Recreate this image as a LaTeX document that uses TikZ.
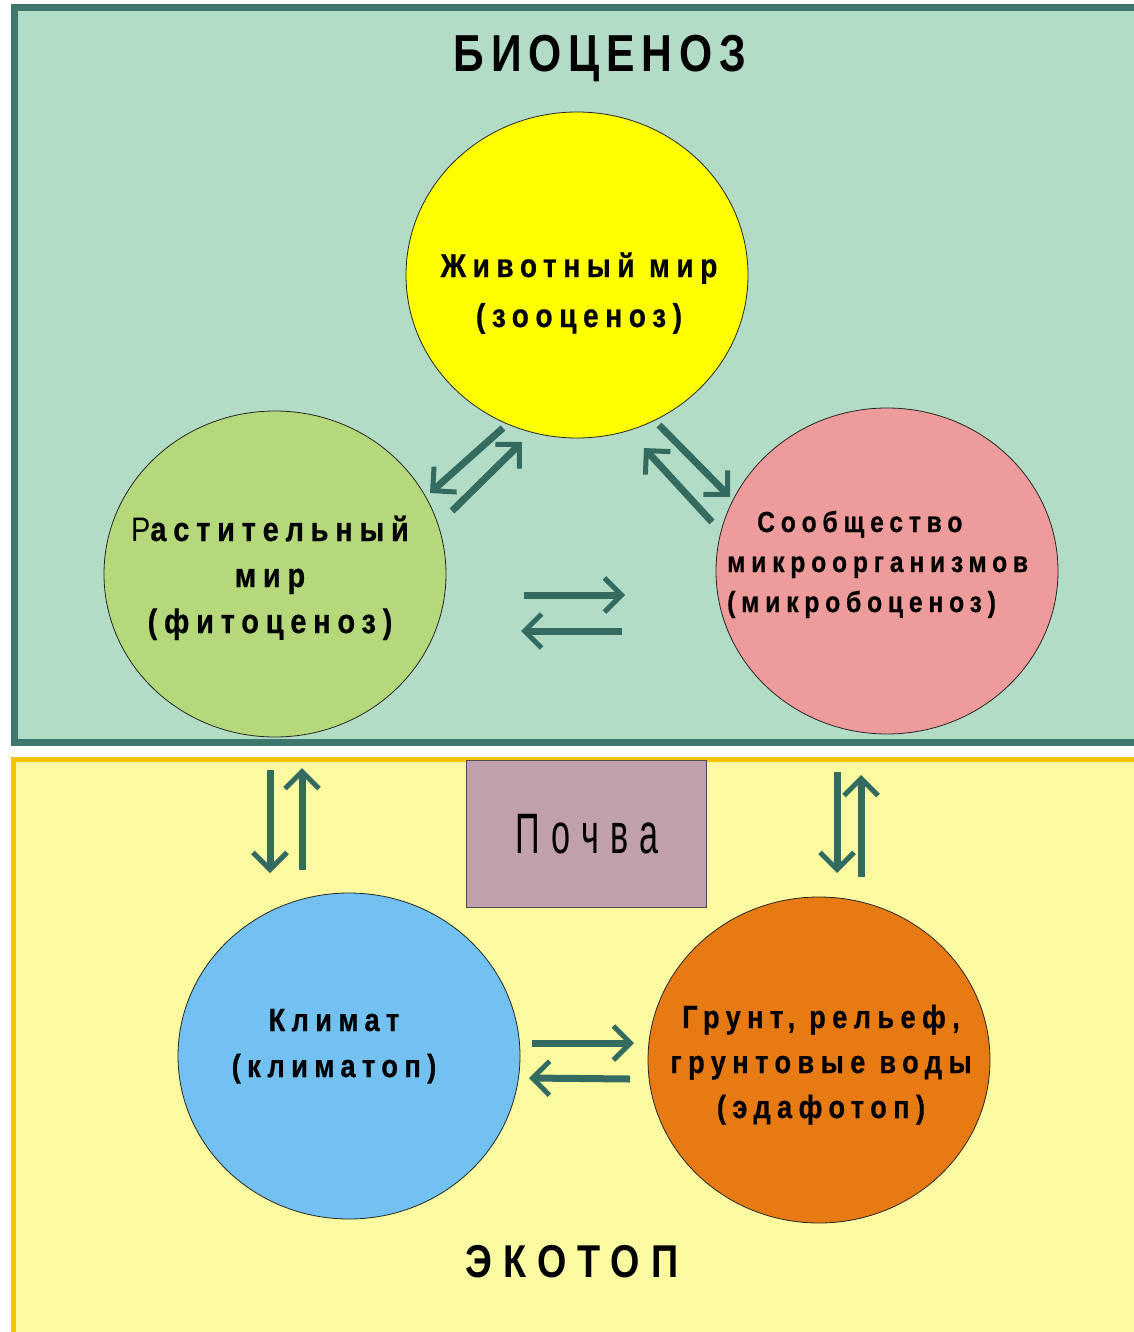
\documentclass[tikz,border=0pt]{standalone}
\usepackage{fontspec}
\setmainfont{Liberation Sans}
\newfontfamily\spacedfont[FakeStretch=0.85,LetterSpace=20,BoldFeatures={FakeBold=0.6}]{Liberation Sans}
\newfontfamily\headfont[FakeStretch=0.82,LetterSpace=13]{Liberation Sans}
\newfontfamily\footfont[FakeStretch=0.82,LetterSpace=24]{Liberation Sans}
\newfontfamily\narrowfont[FakeStretch=0.6,LetterSpace=20]{Liberation Sans}
\usetikzlibrary{shapes.geometric,arrows.meta,positioning}
\definecolor{bioFill}{RGB}{178,220,198}
\definecolor{bioEdge}{RGB}{62,120,108}
\definecolor{ecoFill}{RGB}{252,250,160}
\definecolor{ecoEdge}{RGB}{245,196,0}
\definecolor{arrTeal}{RGB}{51,107,96}
\definecolor{zooYellow}{RGB}{255,255,0}
\definecolor{phytoGreen}{RGB}{181,217,122}
\definecolor{microPink}{RGB}{238,155,155}
\definecolor{climBlue}{RGB}{115,193,240}
\definecolor{edaOrange}{RGB}{232,122,20}
\definecolor{soilMauve}{RGB}{192,160,172}

\tikzset{
  sphere/.style={ellipse, draw=black!85, line width=0.8pt, minimum width=342pt, minimum height=326pt, inner sep=0pt},
  lbl/.style 2 args={align=center, anchor=base, inner sep=0pt, font=\spacedfont\bfseries\fontsize{#1}{#2}\selectfont},
  flow/.style={draw=arrTeal, line width=7pt, -{Straight Barb[length=17pt,width=34pt,line width=5pt]}},
}

\begin{document}
\begin{tikzpicture}[x=1pt,y=-1pt]
\useasboundingbox (0,0) rectangle (1134,1332);
\fill[white] (0,0) rectangle (1134,1332);

% ===== upper panel: biocenosis =====
\draw[draw=bioEdge, line width=7pt, fill=bioFill] (14.5,8) rectangle (1150,742);
\node[anchor=base, font=\headfont\bfseries\fontsize{52}{60}\selectfont] (biotitle) at (600,72) {БИОЦЕНОЗ};

% three communities
\node[sphere, fill=zooYellow] (zoo) at (577,275) {};
\node[sphere, fill=phytoGreen] (phyto) at (275,574) {};
\node[sphere, fill=microPink] (micro) at (887,571) {};

\node[lbl={33}{50}] (zootext) at (579,327) {Животный мир\\(зооценоз)};
\node[lbl={34}{46}] (phytotext) at (270,633) {{\mdseries Р}астительный\\мир\\(фитоценоз)};
\node[lbl={29}{40}, align=left, anchor=base west] (microtext) at (727,612) {\hspace*{30pt}Сообщество\\микроорганизмов\\(микробоценоз)};

% links inside the biocenosis
\coordinate (zp1) at (503,428);  \coordinate (zp2) at (430,493);
\coordinate (pz1) at (452,511);  \coordinate (pz2) at (522,442);
\coordinate (zm1) at (659,425);  \coordinate (zm2) at (730,497);
\coordinate (mz1) at (712,522);  \coordinate (mz2) at (644,448);
\coordinate (pm1) at (524,595);  \coordinate (pm2) at (625,595);
\coordinate (mp1) at (622,631);  \coordinate (mp2) at (521,631);
\draw[flow] (zp1) -- (zp2);
\draw[flow] (pz1) -- (pz2);
\draw[flow] (zm1) -- (zm2);
\draw[flow] (mz1) -- (mz2);
\draw[flow] (pm1) -- (pm2);
\draw[flow] (mp1) -- (mp2);

% ===== lower panel: ecotope =====
\draw[draw=ecoEdge, line width=5pt, fill=ecoFill] (13.5,759.5) rectangle (1150,1345);
\node[draw=black!70, line width=0.8pt, fill=soilMauve, minimum width=240pt, minimum height=147pt, inner sep=0pt] (soil) at (586,834) {};
\node[anchor=base, font=\narrowfont\fontsize{57}{60}\selectfont] (soiltext) at (587,853) {Почва};

\node[sphere, fill=climBlue] (clim) at (349,1056) {};
\node[sphere, fill=edaOrange] (eda) at (819,1060) {};

\node[lbl={32}{46}] (climtext) at (334,1077) {Климат\\(климатоп)};
\node[lbl={32}{45}] (edatext) at (821,1118) {Грунт, рельеф,\\грунтовые воды\\(эдафотоп)};

\node[anchor=base, font=\footfont\bfseries\fontsize{46}{50}\selectfont] (ecotitle) at (572,1277) {ЭКОТОП};

% links between the two panels
\coordinate (pc1) at (270,770);  \coordinate (pc2) at (270,873);
\coordinate (cp1) at (302,870);  \coordinate (cp2) at (302,768);
\coordinate (me1) at (837,772);  \coordinate (me2) at (837,873);
\coordinate (em1) at (861,877);  \coordinate (em2) at (861,775);
\draw[flow] (pc1) -- (pc2);
\draw[flow] (cp1) -- (cp2);
\draw[flow] (me1) -- (me2);
\draw[flow] (em1) -- (em2);

% links inside the ecotope
\coordinate (ce1) at (532,1043); \coordinate (ce2) at (634,1043);
\coordinate (ec1) at (630,1079); \coordinate (ec2) at (529,1078);
\draw[flow] (ce1) -- (ce2);
\draw[flow] (ec1) -- (ec2);

\end{tikzpicture}
\end{document}
